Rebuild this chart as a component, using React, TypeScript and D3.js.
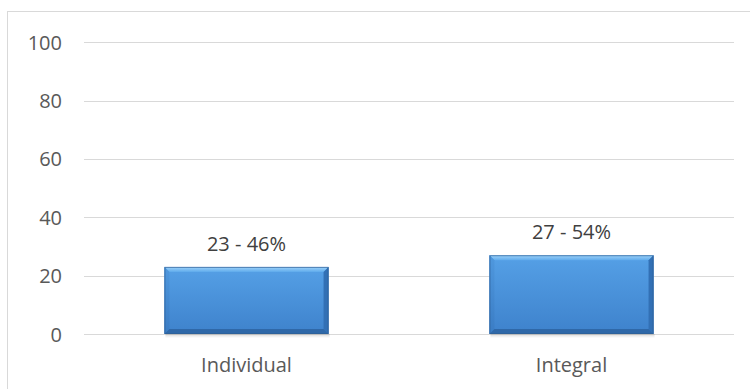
import React from "react";
import * as d3 from "d3";

const categories = ["Individual", "Integral"];
const values = [23, 27];
const valueLabels = ["23 - 46%", "27 - 54%"];
const yTicks = [0, 20, 40, 60, 80, 100];

const W = 750;
const H = 389;
const FONT = "'Open Sans', sans-serif";

export default function App() {
  const x = d3.scaleBand<string>().domain(categories).range([84, 734]).paddingInner(0.495).paddingOuter(0.2475);
  const y = d3.scaleLinear().domain([0, 100]).range([334, 42.3]);
  const bw = x.bandwidth();
  const b = 5;

  return (
    <svg width={W} height={H} style={{ position: "absolute", left: 0, top: 0, background: "#fff" }}>
      <defs>
        <linearGradient id="barFill" x1="0" y1="0" x2="0" y2="1">
          <stop offset="0" stopColor="#55a0e6" />
          <stop offset="1" stopColor="#3e82cc" />
        </linearGradient>
        <linearGradient id="topBevel" x1="0" y1="0" x2="0" y2="1">
          <stop offset="0" stopColor="#9fd3fa" />
          <stop offset="1" stopColor="#5fabec" />
        </linearGradient>
        <linearGradient id="leftBevel" x1="0" y1="0" x2="0" y2="1">
          <stop offset="0" stopColor="#4f98de" />
          <stop offset="1" stopColor="#3a7cc4" />
        </linearGradient>
        <linearGradient id="shadowG" x1="0" y1="0" x2="0" y2="1">
          <stop offset="0" stopColor="#000" stopOpacity="0.15" />
          <stop offset="1" stopColor="#000" stopOpacity="0" />
        </linearGradient>
      </defs>
      <rect x={7.5} y={11.5} width={800} height={420} fill="#fff" stroke="#d9d9d9" strokeWidth={1} />
      {yTicks.map((t) => (
        <g key={t}>
          <line x1={84} x2={734} y1={Math.round(y(t)) + 0.5} y2={Math.round(y(t)) + 0.5} stroke="#d9d9d9" strokeWidth={1.2} />
          <text x={62} y={y(t)} textAnchor="end" dominantBaseline="central" fontFamily={FONT} fontSize={20} fill="#595959">
            {t}
          </text>
        </g>
      ))}
      {categories.map((c, i) => {
        const x0 = x(c)!;
        const x1 = x0 + bw;
        const y0 = y(values[i]);
        const y1 = y(0);
        return (
          <g key={c}>
            <rect x={x0 + 1} y={y1} width={bw} height={4} fill="url(#shadowG)" />
            <rect x={x0} y={y0} width={bw} height={y1 - y0} fill="url(#barFill)" />
            <polygon points={`${x0},${y0} ${x1},${y0} ${x1 - b},${y0 + b} ${x0 + b},${y0 + b}`} fill="url(#topBevel)" />
            <polygon points={`${x0},${y0} ${x0 + b},${y0 + b} ${x0 + b},${y1 - b} ${x0},${y1}`} fill="url(#leftBevel)" />
            <polygon points={`${x1},${y0} ${x1 - b},${y0 + b} ${x1 - b},${y1 - b} ${x1},${y1}`} fill="#3270b5" />
            <polygon points={`${x0},${y1} ${x0 + b},${y1 - b} ${x1 - b},${y1 - b} ${x1},${y1}`} fill="#2f68a8" />
            <rect x={x0 + 0.5} y={y0 + 0.5} width={bw - 1} height={y1 - y0 - 1} fill="none" stroke="#2e5f96" strokeWidth={1} strokeOpacity={0.7} />
            <text x={x0 + bw / 2} y={y0 - 16} textAnchor="middle" fontFamily={FONT} fontSize={20} fill="#404040">
              {valueLabels[i]}
            </text>
            <text x={x0 + bw / 2} y={372} textAnchor="middle" fontFamily={FONT} fontSize={20} fill="#595959">
              {c}
            </text>
          </g>
        );
      })}
    </svg>
  );
}
